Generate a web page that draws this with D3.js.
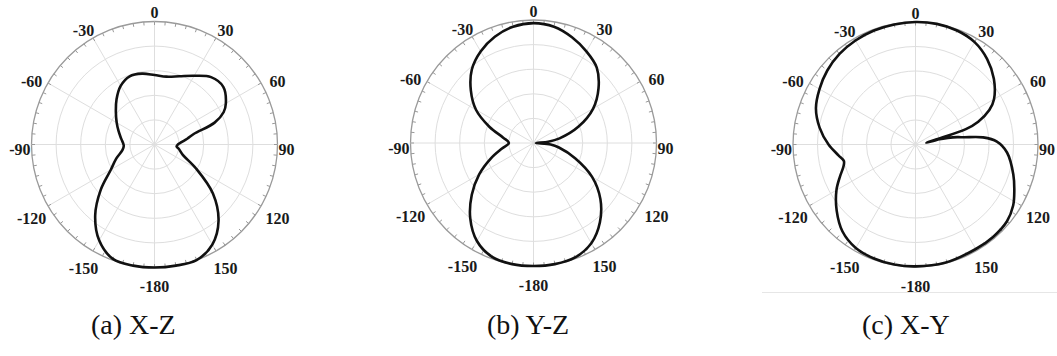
<!DOCTYPE html>
<html>
<head>
<meta charset="utf-8">
<script src="https://cdn.jsdelivr.net/npm/d3@7"></script>
<style>
  body { margin: 0; background: #fff; }
  svg { display: block; }
</style>
</head>
<body>
<div id="viz"></div>
<script>
// tick labels round the rim
var labelAngles = [0, 30, 60, 90, 120, 150, 180, -150, -120, -90, -60, -30];
var tickLabels = ['0', '30', '60', '90', '120', '150', '-180', '-150', '-120', '-90', '-60', '-30'];
var ringValues = [0.2, 0.4, 0.6, 0.8, 1.0];

// (a) X-Z plane, normalised pattern
var xzAngles = [-180, -170, -160, -150, -140, -130, -120, -110, -100, -92, -80, -70, -60, -50, -40, -30, -20, -10,
  0, 10, 20, 30, 40, 50, 60, 65, 70, 75, 80, 85, 90, 95, 100, 110, 120, 130, 140, 150, 160, 170];
var xzGain = [1.0, 1.0, 0.99, 0.9, 0.75, 0.57, 0.41, 0.33, 0.265, 0.25, 0.275, 0.31, 0.355, 0.41, 0.48, 0.55, 0.59, 0.585,
  0.565, 0.56, 0.59, 0.645, 0.715, 0.73, 0.67, 0.62, 0.52, 0.33, 0.27, 0.22, 0.19, 0.18, 0.2, 0.245, 0.39, 0.62, 0.81, 0.94, 1.0, 1.0];

// (b) Y-Z plane
var yzAngles = [-180, -170, -160, -150, -140, -130, -120, -110, -100, -90, -80, -70, -60, -50, -40, -30, -20, -10,
  0, 10, 20, 30, 40, 50, 60, 70, 80, 85, 90, 95, 100, 110, 120, 130, 140, 150, 160, 170];
var yzGain = [1.0, 1.0, 0.985, 0.92, 0.8, 0.655, 0.51, 0.37, 0.26, 0.2, 0.25, 0.38, 0.54, 0.665, 0.78, 0.86, 0.92, 0.96,
  0.975, 0.96, 0.915, 0.86, 0.8, 0.69, 0.56, 0.39, 0.215, 0.12, 0.02, 0.14, 0.21, 0.36, 0.55, 0.71, 0.84, 0.94, 0.99, 1.0];

// (c) X-Y plane (the spike near 80 deg folds back on itself)
var xyAngles = [-180, -170, -160, -150, -140, -130, -120, -113, -107, -103, -98, -90, -80, -70, -60, -50, -40, -30, -20, -10,
  0, 10, 20, 30, 40, 50, 60, 65, 70, 73, 76.5, 81, 77.5, 78.5, 80, 81.5, 84, 88, 95, 107, 115, 122, 130, 140, 150, 166];
var xyGain = [0.995, 0.995, 0.99, 0.975, 0.927, 0.84, 0.745, 0.67, 0.615, 0.6, 0.635, 0.71, 0.795, 0.865, 0.905, 0.94, 0.965, 0.98, 0.99, 0.995,
  1.0, 1.0, 0.99, 0.965, 0.91, 0.835, 0.74, 0.665, 0.545, 0.43, 0.16, 0.09, 0.2, 0.27, 0.345, 0.4, 0.555, 0.665, 0.75, 0.835, 0.89, 0.94, 0.975, 0.985, 0.985, 0.995];

var captions = ['(a) X-Z', '(b) Y-Z', '(c) X-Y'];

var width = 1057, height = 356;

var panels = [
  { cx: 154.5, cy: 144.5, R: 123, angles: xzAngles, gain: xzGain, cap: captions[0], capX: 91 },
  { cx: 533.5, cy: 143, R: 123, angles: yzAngles, gain: yzGain, cap: captions[1], capX: 487 },
  { cx: 915.5, cy: 144.5, R: 122.5, angles: xyAngles, gain: xyGain, cap: captions[2], capX: 862 }
];

var svg = d3.select('#viz').append('svg')
  .attr('width', width)
  .attr('height', height);

svg.append('rect').attr('width', width).attr('height', height).attr('fill', '#fff');

var rad = Math.PI / 180;

panels.forEach(function(p) {
  var r = d3.scaleLinear().domain([0, 1]).range([0, p.R]);
  var g = svg.append('g').attr('transform', 'translate(' + p.cx + ',' + p.cy + ')');

  // rings
  g.selectAll('.ring')
    .data(ringValues)
    .enter().append('circle')
    .attr('r', d => r(d))
    .attr('fill', 'none')
    .attr('stroke', d => d === 1 ? '#9a9a9a' : '#dedede')
    .attr('stroke-width', d => d === 1 ? 1.3 : 1);

  // spokes every 30 deg
  g.selectAll('.spoke')
    .data(d3.range(0, 360, 30))
    .enter().append('line')
    .attr('x1', 0).attr('y1', 0)
    .attr('x2', d => r(1) * Math.sin(d * rad))
    .attr('y2', d => -r(1) * Math.cos(d * rad))
    .attr('stroke', '#dedede')
    .attr('stroke-width', 1);

  // minor ticks every 5 deg, pointing inward
  g.selectAll('.tick')
    .data(d3.range(0, 360, 5))
    .enter().append('line')
    .attr('x1', d => r(1) * Math.sin(d * rad))
    .attr('y1', d => -r(1) * Math.cos(d * rad))
    .attr('x2', d => (r(1) - 3.5) * Math.sin(d * rad))
    .attr('y2', d => -(r(1) - 3.5) * Math.cos(d * rad))
    .attr('stroke', '#9a9a9a')
    .attr('stroke-width', 1);

  // angle labels: pushed out along the angle, but kept close to the rim at +-90
  var lbl = g.selectAll('.lbl')
    .data(labelAngles)
    .enter().append('text')
    .attr('text-anchor', 'middle')
    .attr('dominant-baseline', 'central')
    .style('font-family', '"Liberation Serif", "Times New Roman", serif')
    .style('font-weight', 'bold')
    .style('font-size', '16px')
    .attr('fill', '#1a1a1a')
    .text((d, i) => tickLabels[i]);

  lbl.each(function(d) {
    var hw = this.getComputedTextLength() / 2;
    var s = Math.sin(d * rad), c = Math.cos(d * rad);
    var x = (p.R + 19) * s;
    var lim = p.R + 1 + hw;
    if (Math.abs(x) > lim) x = Math.sign(x) * lim;
    d3.select(this)
      .attr('x', x)
      .attr('y', -(p.R + 14) * c + 5);
  });

  // pattern
  var pts = p.angles.map((a, i) => [a, p.gain[i]]);
  var line = d3.lineRadial()
    .angle(d => d[0] * rad)
    .radius(d => r(d[1]))
    .curve(d3.curveCatmullRomClosed.alpha(0.5));

  g.append('path')
    .attr('d', line(pts))
    .attr('fill', 'none')
    .attr('stroke', '#111')
    .attr('stroke-width', 2.6)
    .attr('stroke-linejoin', 'round');

  svg.append('text')
    .attr('x', p.capX)
    .attr('y', 334)
    .style('font-family', '"Liberation Serif", "Times New Roman", serif')
    .style('font-size', '28px')
    .attr('fill', '#111')
    .text(p.cap);
});

// faint rule under the third panel
svg.append('line')
  .attr('x1', 762).attr('x2', width)
  .attr('y1', 292.5).attr('y2', 292.5)
  .attr('stroke', '#e6e6e6')
  .attr('stroke-width', 1);
</script>
</body>
</html>
